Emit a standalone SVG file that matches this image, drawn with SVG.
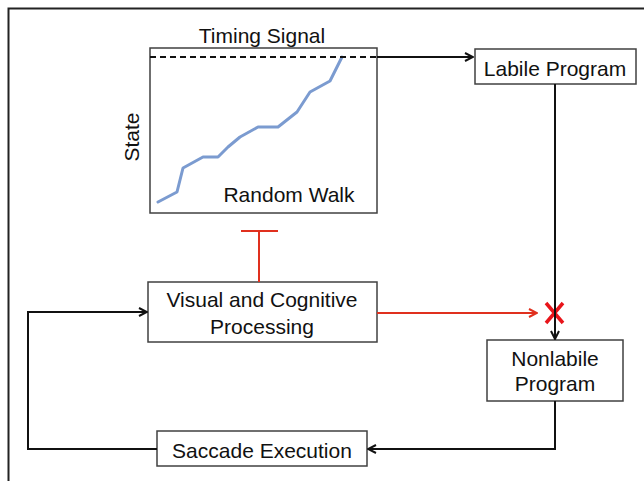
<svg xmlns="http://www.w3.org/2000/svg" width="644" height="481" viewBox="0 0 644 481">
<style>
.box{fill:#fff;stroke:#404040;stroke-width:1.5}
.t{font-family:"Liberation Sans",Arial,sans-serif;font-size:21px;fill:#111;text-anchor:middle}
.k{fill:none;stroke:#111;stroke-width:2}
.r{fill:none;stroke:#e0301e;stroke-width:2}
</style>
<defs>
<marker id="ak" viewBox="0 0 10 10" refX="9" refY="5" markerWidth="10" markerHeight="10" markerUnits="userSpaceOnUse" orient="auto">
<path d="M1,1 L9,5 L1,9" fill="none" stroke="#111" stroke-width="2"/>
</marker>
<marker id="ar" viewBox="0 0 10 10" refX="9" refY="5" markerWidth="10" markerHeight="10" markerUnits="userSpaceOnUse" orient="auto">
<path d="M1,1 L9,5 L1,9" fill="none" stroke="#e0301e" stroke-width="2"/>
</marker>
</defs>
<rect width="644" height="481" fill="#fff"/>
<path d="M8.5,481 V8.5 H644" fill="none" stroke="#222" stroke-width="2"/>
<g id="timing">
<rect class="box" x="150" y="48" width="227" height="165"/>
<text class="t" x="262" y="43">Timing Signal</text>
<text class="t" x="289" y="202">Random Walk</text>
<text class="t" transform="translate(139,137) rotate(-90)">State</text>
<polyline points="158,202 177,192 183,168 203,157 218,157 228,147 240,137 258,127 278,127 297,112 310,92 330,81 342,57" fill="none" stroke="#7b9bd0" stroke-width="3" stroke-linejoin="round" stroke-linecap="round"/>
<line x1="150" y1="57" x2="377" y2="57" stroke="#111" stroke-width="2" stroke-dasharray="6,4"/>
</g>
<g id="labile">
<rect class="box" x="475" y="49" width="161" height="35"/>
<text class="t" x="555" y="76">Labile Program</text>
</g>
<g id="visual">
<rect class="box" x="148" y="282" width="229" height="60"/>
<text class="t" x="262" y="307">Visual and Cognitive</text>
<text class="t" x="262" y="334">Processing</text>
</g>
<g id="nonlabile">
<rect class="box" x="487" y="340" width="136" height="61"/>
<text class="t" x="555" y="366">Nonlabile</text>
<text class="t" x="555" y="391">Program</text>
</g>
<g id="saccade">
<rect class="box" x="157" y="431" width="210" height="35"/>
<text class="t" x="262" y="458">Saccade Execution</text>
</g>
<g id="connectors">
<path d="M546,303 L563,323 M563,303 L546,323" stroke="#e8141a" stroke-width="3.5" fill="none"/>
<path class="k" d="M377,57 H473" marker-end="url(#ak)"/>
<path class="k" d="M555,84 V339" marker-end="url(#ak)"/>
<path class="k" d="M555,401 V449 H368" marker-end="url(#ak)"/>
<path class="k" d="M157,449 H28 V312 H147" marker-end="url(#ak)"/>
<path class="r" d="M377,313 H537" marker-end="url(#ar)"/>
<path class="r" d="M259,282 V231 M241,231 H278"/>
</g>
</svg>
